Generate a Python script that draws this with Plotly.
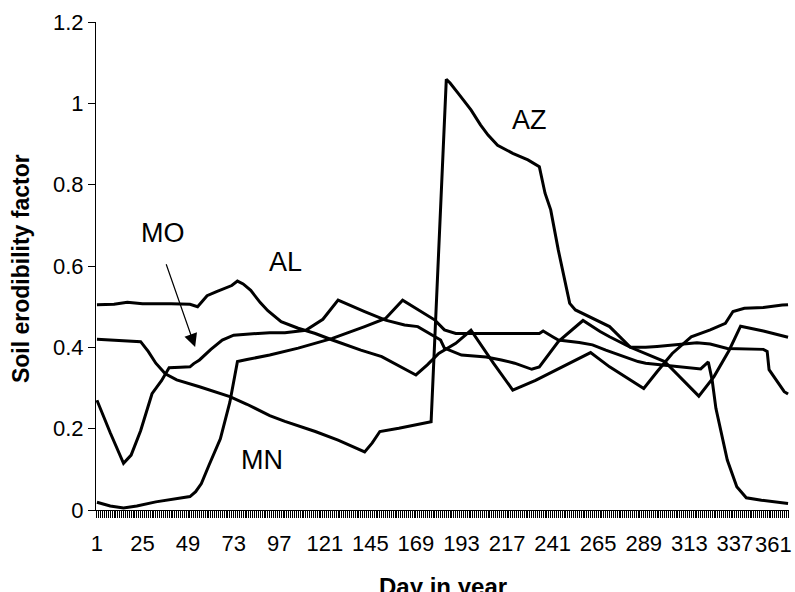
import plotly.graph_objects as go

# Day-of-year breakpoints and soil erodibility factor values
AL_day = [1, 10, 17, 25, 40, 50, 54, 59, 64, 68, 72, 75, 78, 82, 87, 91, 98, 107, 116, 125,
          140, 151, 160, 169, 175, 181, 190, 198, 210, 220, 232, 246, 261, 271, 280, 289, 296,
          304, 314, 324, 332, 336, 342, 352, 362, 365]
AL_val = [0.505, 0.506, 0.511, 0.507, 0.507, 0.506, 0.500, 0.527, 0.537, 0.545, 0.552, 0.563,
          0.556, 0.540, 0.510, 0.490, 0.463, 0.447, 0.434, 0.418, 0.393, 0.377, 0.355, 0.332,
          0.357, 0.385, 0.410, 0.442, 0.360, 0.295, 0.319, 0.352, 0.387, 0.352, 0.325, 0.299,
          0.340, 0.385, 0.426, 0.443, 0.459, 0.488, 0.496, 0.498, 0.504, 0.505]

AZ_day = [1, 10, 20, 24, 28, 32, 37, 43, 55, 71, 80, 92, 100, 116, 128, 142, 146, 150, 160, 177,
          185, 187, 192, 198, 203, 207, 212, 220, 228, 234, 237, 240, 244, 250, 253, 259, 271,
          282, 300, 318, 326, 334, 340, 352, 364, 365]
AZ_val = [0.420, 0.418, 0.415, 0.414, 0.390, 0.361, 0.335, 0.320, 0.303, 0.279, 0.260, 0.232,
          0.218, 0.193, 0.172, 0.143, 0.165, 0.193, 0.201, 0.217, 1.059, 1.050, 1.020, 0.984,
          0.947, 0.922, 0.897, 0.877, 0.861, 0.844, 0.779, 0.738, 0.639, 0.508, 0.492, 0.479,
          0.451, 0.400, 0.365, 0.280, 0.328, 0.393, 0.452, 0.440, 0.426, 0.425]

MO_day = [1, 8, 15, 19, 24, 30, 35, 39, 45, 50, 52, 55, 61, 67, 73, 80, 92, 100, 111, 120,
          128, 142, 153, 163, 170, 182, 184, 193, 206, 214, 221, 230, 234, 244, 257, 266, 271,
          282, 290, 296, 306, 317, 324, 333, 352, 354, 355, 363, 365]
MO_val = [0.270, 0.190, 0.115, 0.135, 0.195, 0.286, 0.318, 0.350, 0.351, 0.352, 0.360, 0.369,
          0.395, 0.418, 0.430, 0.432, 0.436, 0.436, 0.442, 0.469, 0.516, 0.488, 0.467, 0.455,
          0.451, 0.418, 0.398, 0.381, 0.376, 0.369, 0.361, 0.346, 0.352, 0.414, 0.466, 0.439,
          0.426, 0.400, 0.400, 0.402, 0.406, 0.411, 0.408, 0.397, 0.395, 0.390, 0.345, 0.291,
          0.285]

MN_day = [1, 8, 15, 22, 32, 42, 50, 53, 56, 60, 66, 71, 73, 75, 80, 92, 107, 125, 142, 153,
          162, 170, 179, 184, 190, 234, 236, 241, 244, 255, 262, 269, 286, 290, 314, 319, 323,
          325, 327, 333, 338, 343, 351, 364, 365]
MN_val = [0.019, 0.010, 0.005, 0.010, 0.020, 0.027, 0.033, 0.045, 0.065, 0.110, 0.175, 0.265,
          0.320, 0.365, 0.370, 0.381, 0.398, 0.422, 0.451, 0.471, 0.516, 0.492, 0.467, 0.443,
          0.434, 0.434, 0.440, 0.426, 0.418, 0.412, 0.406, 0.393, 0.365, 0.361, 0.348, 0.347,
          0.364, 0.320, 0.250, 0.123, 0.057, 0.030, 0.024, 0.016, 0.016]

x_labels = [1, 25, 49, 73, 97, 121, 145, 169, 193, 217, 241, 265, 289, 313, 337, 361]
all_days = list(range(1, 366))
y_ticks = [0, 0.2, 0.4, 0.6, 0.8, 1.0, 1.2]
y_labels = ["0", "0.2", "0.4", "0.6", "0.8", "1", "1.2"]

FONT = "Liberation Sans, Arial, sans-serif"
last_label = x_labels[-1]


def day_label(d):
    # the last label is drawn separately, nudged left to stay inside the page
    if d in x_labels and d != last_label:
        return str(d)
    return ""


fig = go.Figure()
for name, d, v in [("AL", AL_day, AL_val), ("AZ", AZ_day, AZ_val),
                   ("MO", MO_day, MO_val), ("MN", MN_day, MN_val)]:
    fig.add_trace(go.Scatter(x=d, y=v, mode="lines", name=name,
                             line=dict(color="black", width=3), showlegend=False))

labels = [("AZ", 229, 0.96), ("AL", 100.5, 0.611), ("MO", 36, 0.68), ("MN", 88, 0.123)]
for t, x, y in labels:
    fig.add_annotation(x=x, y=y, xref="x", yref="y", text=t, showarrow=False,
                       font=dict(family=FONT, size=27, color="black"))

# arrow from MO label to MO line
fig.add_annotation(x=52.7, y=0.401, ax=37.2, ay=0.608, xref="x", yref="y",
                   axref="x", ayref="y", text="", showarrow=True,
                   arrowhead=2, arrowsize=2.2, arrowwidth=1.2, arrowcolor="black")

# last x tick label (shifted left like in the original)
fig.add_annotation(x=last_label, y=-0.0717, xref="x", yref="paper", text=str(last_label),
                   showarrow=False, xanchor="center", yanchor="middle", xshift=-7,
                   font=dict(family=FONT, size=22, color="black"))

# axis titles
fig.add_annotation(x=0.5, y=-0.125, xref="paper", yref="paper", text="<b>Day in year</b>",
                   showarrow=False, xanchor="center", yanchor="top",
                   font=dict(family=FONT, size=24, color="black"))
fig.add_annotation(x=-0.108, y=0.494, xref="paper", yref="paper",
                   text="<b>Soil erodibility factor</b>", textangle=-90,
                   showarrow=False, xanchor="center", yanchor="middle",
                   font=dict(family=FONT, size=23, color="black"))

fig.update_xaxes(range=[0.5, 365.5], tickmode="array", tickvals=all_days,
                 ticktext=[day_label(d) for d in all_days], tickangle=0, automargin=False,
                 ticks="outside", ticklen=7, tickwidth=1, tickcolor="black",
                 ticklabelstandoff=7,
                 showline=True, linecolor="black", linewidth=1, showgrid=False,
                 zeroline=False, tickfont=dict(family=FONT, size=22, color="black"))
fig.update_yaxes(range=[0, 1.2], tickmode="array", tickvals=y_ticks, ticktext=y_labels,
                 automargin=False,
                 ticks="outside", ticklen=7, tickwidth=1, tickcolor="black",
                 showline=True, linecolor="black", linewidth=1, showgrid=False,
                 zeroline=False, tickfont=dict(family=FONT, size=22, color="black"))

fig.update_layout(width=795, height=592, autosize=False,
                  margin=dict(l=96, r=6, t=22, b=82),
                  plot_bgcolor="white", paper_bgcolor="white")

fig.write_html("out.html")
